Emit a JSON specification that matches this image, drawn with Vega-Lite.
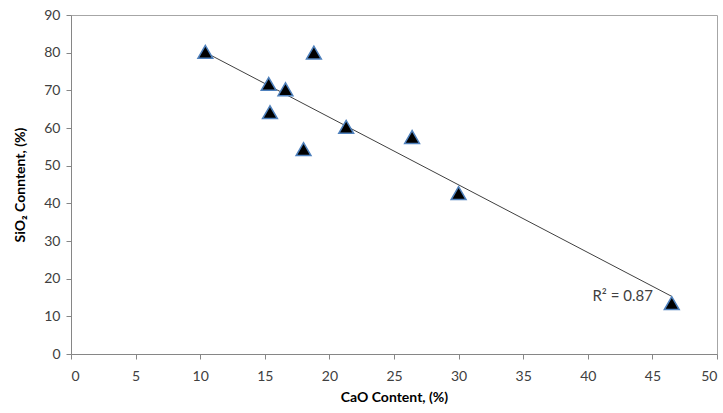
{
  "$schema": "https://vega.github.io/schema/vega-lite/v6.json",
  "autosize": "none",
  "width": 646,
  "height": 339,
  "padding": {"left": 71, "top": 15, "right": 6, "bottom": 59},
  "background": "white",
  "config": {
    "view": {"stroke": "#a6a6a6", "strokeWidth": 1},
    "font": "Lato"
  },
  "data": {
    "values": [
      {"CaO": 10.4, "SiO2": 80.2},
      {"CaO": 18.8, "SiO2": 80.0},
      {"CaO": 15.3, "SiO2": 71.7},
      {"CaO": 16.6, "SiO2": 70.3},
      {"CaO": 15.4, "SiO2": 64.2},
      {"CaO": 21.3, "SiO2": 60.3},
      {"CaO": 18.0, "SiO2": 54.4},
      {"CaO": 26.4, "SiO2": 57.6},
      {"CaO": 30.0, "SiO2": 42.7},
      {"CaO": 46.5, "SiO2": 13.5}
    ]
  },
  "encoding": {
    "x": {
      "field": "CaO", "type": "quantitative",
      "scale": {"domain": [0, 50], "nice": false},
      "axis": {
        "values": [0, 5, 10, 15, 20, 25, 30, 35, 40, 45, 50],
        "title": "CaO Content, (%)",
        "grid": false,
        "labelOverlap": false,
        "domainColor": "#868686",
        "tickColor": "#868686",
        "tickSize": 5,
        "labelFont": "Lato",
        "labelFontSize": 14,
        "labelColor": "#404040",
        "labelPadding": 10,
        "titleFont": "Lato",
        "titleFontSize": 14,
        "titleFontWeight": "bold",
        "titleColor": "#000000",
        "titlePadding": 7
      }
    },
    "y": {
      "field": "SiO2", "type": "quantitative",
      "scale": {"domain": [0, 90], "nice": false},
      "axis": {
        "values": [0, 10, 20, 30, 40, 50, 60, 70, 80, 90],
        "title": "SiO₂ Conntent, (%)",
        "grid": false,
        "labelOverlap": false,
        "domainColor": "#868686",
        "tickColor": "#868686",
        "tickSize": 5,
        "labelFont": "Lato",
        "labelFontSize": 14,
        "labelColor": "#404040",
        "labelPadding": 6,
        "titleFont": "Lato",
        "titleFontSize": 14,
        "titleFontWeight": "bold",
        "titleColor": "#000000",
        "titlePadding": 16
      }
    }
  },
  "layer": [
    {
      "transform": [{"regression": "SiO2", "on": "CaO"}],
      "mark": {"type": "line", "color": "#404040", "strokeWidth": 1}
    },
    {
      "mark": {"type": "point", "shape": "triangle-up", "filled": true, "fill": "black", "stroke": "#4f81bd", "strokeWidth": 1.5, "size": 220, "opacity": 1}
    },
    {
      "data": {"values": [{"CaO": 42.7, "SiO2": 15.3, "label": "R² = 0.87"}]},
      "mark": {"type": "text", "font": "Lato", "fontSize": 15, "color": "#404040", "align": "center", "baseline": "middle"},
      "encoding": {
        "text": {"field": "label"}
      }
    }
  ]
}
